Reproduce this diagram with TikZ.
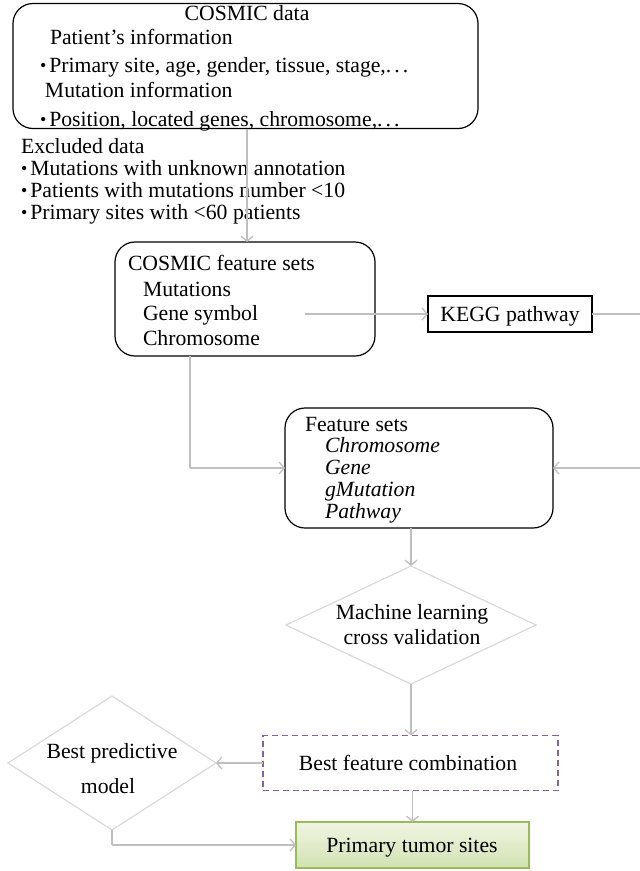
\documentclass[tikz,border=0pt]{standalone}
\usepackage{fontspec}
\setmainfont{Liberation Serif}
\usetikzlibrary{shapes.geometric,arrows.meta}
\definecolor{conn}{HTML}{BFBFBF}
\definecolor{dia}{HTML}{D9D9D9}
\definecolor{purp}{HTML}{8064A2}
\definecolor{grnb}{HTML}{9BBB59}
\definecolor{grnt}{HTML}{F0F5E3}
\definecolor{grnbot}{HTML}{D2E2B2}
\newcommand{\mybul}{{\fontsize{18}{18}\selectfont\raisebox{0.6pt}{•}}\hspace{3pt}}
\newcommand{\mydots}{.\hspace{3pt}.\hspace{3pt}.}
\tikzset{
  every node/.style={font=\fontsize{21.7}{24}\selectfont, inner sep=0pt, outer sep=0pt},
  rbox/.style={draw=black, line width=1.2pt, rounded corners=20pt},
  sbox/.style={draw=black, line width=1.2pt},
  dbox/.style={draw=dia, line width=1.2pt, diamond},
  conn/.style={draw=conn, line width=1.3pt, -{Straight Barb[length=5pt,width=12pt]}},
  plain/.style={draw=conn, line width=1.3pt},
  lt/.style={anchor=base west},
  ct/.style={anchor=base},
}
\begin{document}
\begin{tikzpicture}[x=1pt,y=-1pt]
\useasboundingbox (0,0) rectangle (640,871);
% top box
\node[rbox, minimum width=465pt, minimum height=125pt] (cosmic) at (245.5,66) {};
\node[ct] (t1) at (247,20) {COSMIC data};
\node[lt] (t2) at (50,44) {Patient’s information};
\node[lt] (t3) at (40,72) {\mybul Primary site, age, gender, tissue, stage,\mydots};
\node[lt] (t4) at (45,97) {Mutation information};
\node[lt] (t5) at (40,126) {\mybul Position, located genes, chromosome,\mydots};
% excluded
\node[lt] (e1) at (21,153) {Excluded data};
\node[lt] (e2) at (21,175) {\mybul Mutations with unknown annotation};
\node[lt] (e3) at (21,197) {\mybul Patients with mutations number <10};
\node[lt] (e4) at (21,219) {\mybul Primary sites with <60 patients};
% cosmic feature sets
\node[rbox, minimum width=260pt, minimum height=114pt] (cfs) at (245,299) {};
\node[lt] (c1) at (128,270) {COSMIC feature sets};
\node[lt] (c2) at (143,296) {Mutations};
\node[lt] (c3) at (143,320) {Gene symbol};
\node[lt] (c4) at (143,345) {Chromosome};
% kegg
\node[sbox, minimum width=164pt, minimum height=36pt] (kegg) at (510,314) {};
\node[ct] (k1) at (510,321) {KEGG pathway};
% feature sets
\node[rbox, minimum width=268pt, minimum height=120pt] (fs) at (419,468) {};
\node[lt] (f1) at (305,431) {Feature sets};
\node[lt] (f2) at (325,452) {\itshape Chromosome};
\node[lt] (f3) at (325,474) {\itshape Gene};
\node[lt] (f4) at (325,496) {\itshape gMutation};
\node[lt] (f5) at (325,518) {\itshape Pathway};
% ML diamond
\node[dbox, minimum width=250pt, minimum height=118pt] (ml) at (411,625) {};
\node[ct] (m1) at (412,619) {Machine learning};
\node[ct] (m2) at (412,644) {cross validation};
% dashed box
\node[draw=purp, line width=1.2pt, dash pattern=on 6pt off 4pt, minimum width=295pt, minimum height=55pt] (best) at (410.5,763) {};
\node[ct] (b1) at (408,770) {Best feature combination};
% BP diamond
\node[dbox, minimum width=208pt, minimum height=134pt] (bp) at (112,763) {};
\node[ct] (p1) at (112,758) {Best predictive};
\node[ct] (p2) at (108,793) {model};
% primary
\node[draw=grnb, line width=1.2pt, top color=grnt, bottom color=grnbot, minimum width=233pt, minimum height=46pt] (prim) at (412.5,845) {};
\node[ct] (q1) at (412,852) {Primary tumor sites};
% connectors
\coordinate (gs) at (305,314);
\coordinate (r1) at (646,314);
\coordinate (r2) at (646,468);
\coordinate (l1) at (190,468);
\coordinate (bl) at (112,845);
\coordinate (tstart) at (247,128.6);
\draw[conn] (tstart) -- (tstart |- cfs.north);
\draw[conn] (gs) -- (kegg.west);
\draw[plain] (kegg.east) -- (r1) -- (r2);
\draw[conn] (r2) -- (fs.east);
\draw[plain] (cfs.south -| l1) -- (l1);
\draw[conn] (l1) -- (fs.west);
\draw[conn] (fs.south -| ml.north) -- (ml.north);
\draw[conn] (ml.south) -- (ml.south |- best.north);
\draw[conn] (best.west) -- (bp.east);
\draw[plain] (bp.south) -- (bl);
\draw[conn] (bl) -- (prim.west);
\draw[conn] (best.south -| prim.north) -- (prim.north);
\end{tikzpicture}
\end{document}
